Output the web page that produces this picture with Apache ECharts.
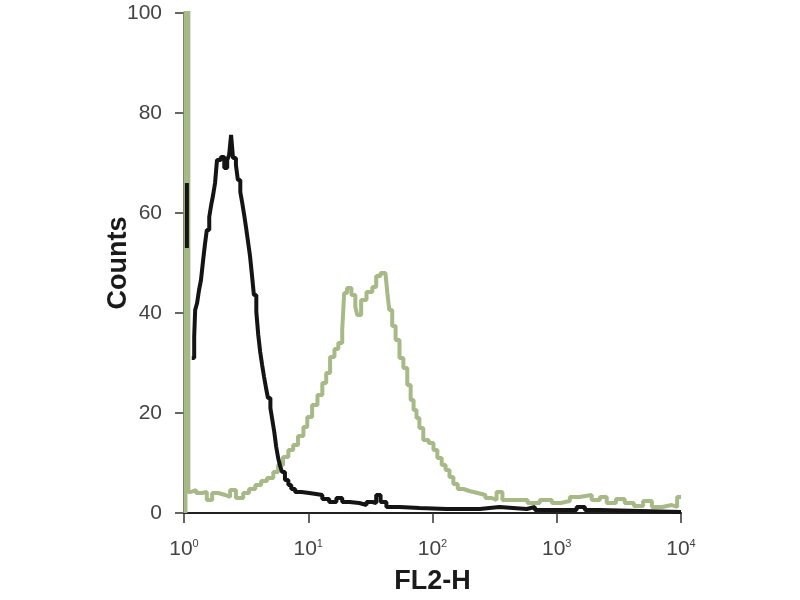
<!DOCTYPE html>
<html>
<head>
<meta charset="utf-8">
<script src="https://cdn.jsdelivr.net/npm/echarts@6/dist/echarts.min.js"></script>
<style>html,body{margin:0;padding:0;background:#fff}#c{width:800px;height:600px}</style>
</head>
<body>
<div id="c"></div>
<script>
// FL2-H is recorded on a 1024-channel, 4-decade log scale (256 channels per decade)
const xTickExponents = [0, 1, 2, 3, 4];
const yTicks = [0, 20, 40, 60, 80, 100];

// Black trace (control): [channel, counts]
const blackSpike = [[6, 66], [6, 53]];
const blackChannels = [16, 21, 23, 27, 31, 35, 39, 43, 47, 52, 56, 60, 64, 68, 76, 83, 89, 93, 97, 101, 107, 111, 116, 120, 124, 128, 132, 136, 140, 144, 149, 153, 157, 161, 165, 169, 173, 178, 182, 186, 190, 194, 198, 202, 208, 215, 221, 229, 242, 258, 272, 285, 299, 314, 326, 341, 361, 376, 388, 396, 405, 417, 444, 485, 541, 588, 609, 650, 706, 723, 809, 826, 857, 1024];
const blackCounts = [31, 35.2, 40.6, 42, 44.6, 46.6, 50.2, 53.6, 56.6, 59.2, 61.6, 63.6, 66, 70.6, 71.2, 69, 70.6, 71.6, 75.6, 71, 69.6, 66.6, 64.2, 62, 59.6, 57, 54.2, 51.4, 47.6, 43.6, 40.2, 35.6, 32.2, 29.6, 27.2, 25, 23, 21, 18.6, 16.2, 13.2, 11, 9.4, 8.2, 6.6, 5.6, 4.8, 4.2, 4.0, 3.8, 3.6, 2.8, 2.2, 3.0, 2.2, 2.0, 1.6, 2.2, 2.0, 3.6, 2.2, 1.2, 1.0, 0.8, 0.8, 0.8, 1.2, 0.8, 1.2, 0.6, 1.2, 0.6, 0.2, 0.2];

// Green trace (stained): [channel, counts]
const greenChannels = [3, 3, 9, 14, 25, 37, 47, 58, 70, 85, 95, 107, 122, 134, 147, 159, 171, 184, 194, 204, 215, 225, 235, 246, 254, 264, 275, 285, 293, 301, 310, 318, 326, 330, 336, 345, 353, 357, 365, 376, 388, 396, 405, 415, 419, 423, 429, 436, 444, 452, 460, 467, 473, 479, 485, 493, 504, 514, 522, 531, 539, 547, 555, 564, 576, 588, 605, 621, 634, 644, 656, 681, 708, 733, 758, 776, 795, 815, 840, 857, 871, 890, 908, 927, 946, 964, 985, 1005, 1016, 1024];
const greenCounts = [0, 110, 4.2, 4.6, 4.0, 4.2, 2.6, 4.0, 3.6, 3.2, 4.6, 3.0, 4.0, 4.8, 5.6, 6.4, 7.0, 8.2, 9.6, 11.2, 12.6, 13.6, 15.4, 17.2, 19.2, 21.6, 23.6, 26, 28, 31.2, 32.8, 34, 36.6, 44, 45, 43.6, 41.2, 39.6, 42.6, 44.2, 45.2, 47.4, 48, 47.6, 44, 40.6, 37.4, 34.6, 31, 29, 25.6, 22.6, 20.6, 19, 17, 14.6, 14, 12.6, 11, 9.6, 8.6, 7.2, 5.8, 4.8, 4.4, 4.0, 3.6, 3.0, 2.6, 4.2, 2.6, 2.6, 2.0, 2.6, 2.0, 2.4, 3.2, 3.6, 2.6, 3.2, 2.0, 2.8, 2.0, 1.4, 2.4, 1.2, 1.6, 1.2, 3.2, 3.2];

const pair = (xs, ys) => xs.map((x, i) => [x, ys[i]]);
const blackData = blackSpike.concat([[6, '-']], pair(blackChannels, blackCounts));
const greenData = pair(greenChannels, greenCounts);

const tickFont = "'Liberation Sans Narrow', 'Arial Narrow', 'Liberation Sans', Arial, sans-serif";
const chart = echarts.init(document.getElementById('c'), null, { renderer: 'canvas' });
chart.setOption({
  animation: false,
  backgroundColor: '#ffffff',
  grid: { left: 184, right: 119, top: 13, bottom: 87, containLabel: false },
  xAxis: {
    type: 'value', min: 0, max: 1024, interval: 256,
    name: 'FL2-H', nameLocation: 'middle', nameGap: 55, nameMoveOverlap: false,
    nameTextStyle: { fontFamily: 'Liberation Sans, Arial, sans-serif', fontWeight: 'bold', fontSize: 27, color: '#1a1a1a' },
    axisLine: { show: true, onZero: false, lineStyle: { color: '#222', width: 2 } },
    axisTick: { show: true, length: 10, lineStyle: { color: '#333', width: 1.5 } },
    splitLine: { show: false },
    axisLabel: {
      margin: 25,
      formatter: v => '{b|10}{s|' + xTickExponents[Math.round(v / 256)] + '}',
      rich: {
        b: { fontFamily: tickFont, fontSize: 21, lineHeight: 22, color: '#444' },
        s: { fontFamily: tickFont, fontSize: 11, lineHeight: 12, verticalAlign: 'top', color: '#444' }
      }
    }
  },
  yAxis: {
    type: 'value', min: 0, max: 100, interval: 20,
    name: 'Counts', nameLocation: 'middle', nameGap: 52, nameRotate: 90, nameMoveOverlap: false,
    nameTextStyle: { fontFamily: 'Liberation Sans, Arial, sans-serif', fontWeight: 'bold', fontSize: 27, color: '#1a1a1a' },
    axisLine: { show: true, lineStyle: { color: '#4a4f44', width: 2 } },
    axisTick: { show: true, length: 9, lineStyle: { color: '#333', width: 1.5 } },
    splitLine: { show: false },
    axisLabel: { margin: 22, fontFamily: tickFont, fontSize: 21, color: '#444',
      formatter: v => (yTicks.indexOf(v) >= 0 ? String(v) : '') }
  },
  series: [
    {
      name: 'stained', type: 'line', step: 'end', showSymbol: false, symbol: 'none',
      data: greenData, z: 2,
      lineStyle: { color: '#a6b987', width: 4 }
    },
    {
      name: 'control', type: 'line', step: 'end', showSymbol: false, symbol: 'none',
      data: blackData, z: 3, connectNulls: false,
      lineStyle: { color: '#141414', width: 4 }
    }
  ]
});
</script>
</body>
</html>
